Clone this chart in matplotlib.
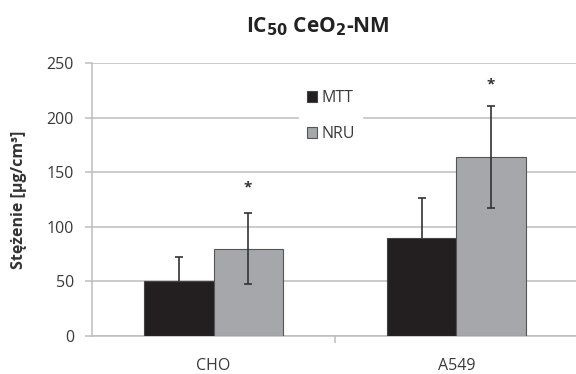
import numpy as np
import matplotlib
matplotlib.use('agg')
import matplotlib.pyplot as plt

# data
categories = ['CHO', 'A549']
mtt_values = [50.5, 90]
mtt_err = [21.5, 36]
nru_values = [80, 164]
nru_err = [32.5, 46.5]
star_level = [136, 230]

plt.rcParams['font.family'] = ['Open Sans', 'DejaVu Sans']

fig = plt.figure(figsize=(5.76, 3.74), dpi=100)
ax = fig.add_axes([0.16, 0.1016, 0.843, 0.73])

x = np.arange(len(categories))
w = 0.285
err_style = dict(fmt='none', ecolor='#333333', elinewidth=1.2, capsize=3, capthick=1.2)

ax.bar(x - w / 2, mtt_values, w, color='#231f20', edgecolor='#444444', linewidth=0.8,
       label='MTT', zorder=3)
# MTT error bars sit behind the black bar, so only the upper half shows
ax.errorbar(x - w / 2, mtt_values, yerr=mtt_err, zorder=2.5, **err_style)

ax.bar(x + w / 2, nru_values, w, color='#a6a7ab', edgecolor='#555555', linewidth=0.8,
       label='NRU', zorder=3)
ax.errorbar(x + w / 2, nru_values, yerr=nru_err, zorder=4, **err_style)

for xi, s in zip(x, star_level):
    ax.text(xi + w / 2, s, '*', ha='center', va='center', fontsize=11,
            fontweight='bold', color='#333333')

ax.set_xlim(-0.5, 1.5)
ax.set_ylim(0, 250)
ax.set_yticks(np.arange(0, 251, 50))
ax.yaxis.grid(True, color='#bdbdbd', linewidth=1.1, zorder=0)
ax.set_axisbelow(True)

ax.set_xticks(x)
ax.set_xticklabels(categories)
ax.tick_params(axis='x', length=0, pad=16, labelsize=11.5, labelcolor='#3a3a3a')
ax.set_xticks([0.5], minor=True)
ax.tick_params(axis='x', which='minor', length=5, color='#bdbdbd', width=1.1)
ax.tick_params(axis='y', length=5, color='#bdbdbd', width=1.1, labelsize=11.5,
               labelcolor='#3a3a3a', pad=8)

for side in ['top', 'right']:
    ax.spines[side].set_visible(False)
for side in ['left', 'bottom']:
    ax.spines[side].set_color('#bdbdbd')
    ax.spines[side].set_linewidth(1.1)

ax.set_ylabel('Stężenie [µg/cm³]', fontsize=11.5, fontweight='bold', color='#333333')
ax.yaxis.set_label_coords(-0.135, 0.5)

fig.text(0.552, 0.9144, r'IC$_{\mathbf{50}}$ CeO$_{\mathbf{2}}$-NM', ha='center',
         va='baseline', fontsize=15, fontweight='bold', color='#222222')

leg = ax.legend(loc='center', bbox_to_anchor=(0.491, 0.806), frameon=True, fontsize=11.5,
                handlelength=0.65, handleheight=0.65, handletextpad=0.25,
                labelspacing=1.25, borderpad=0.5, edgecolor='white', framealpha=1,
                fancybox=False)
for t in leg.get_texts():
    t.set_color('#3a3a3a')

fig.savefig('out.png', dpi=100, facecolor='white')
